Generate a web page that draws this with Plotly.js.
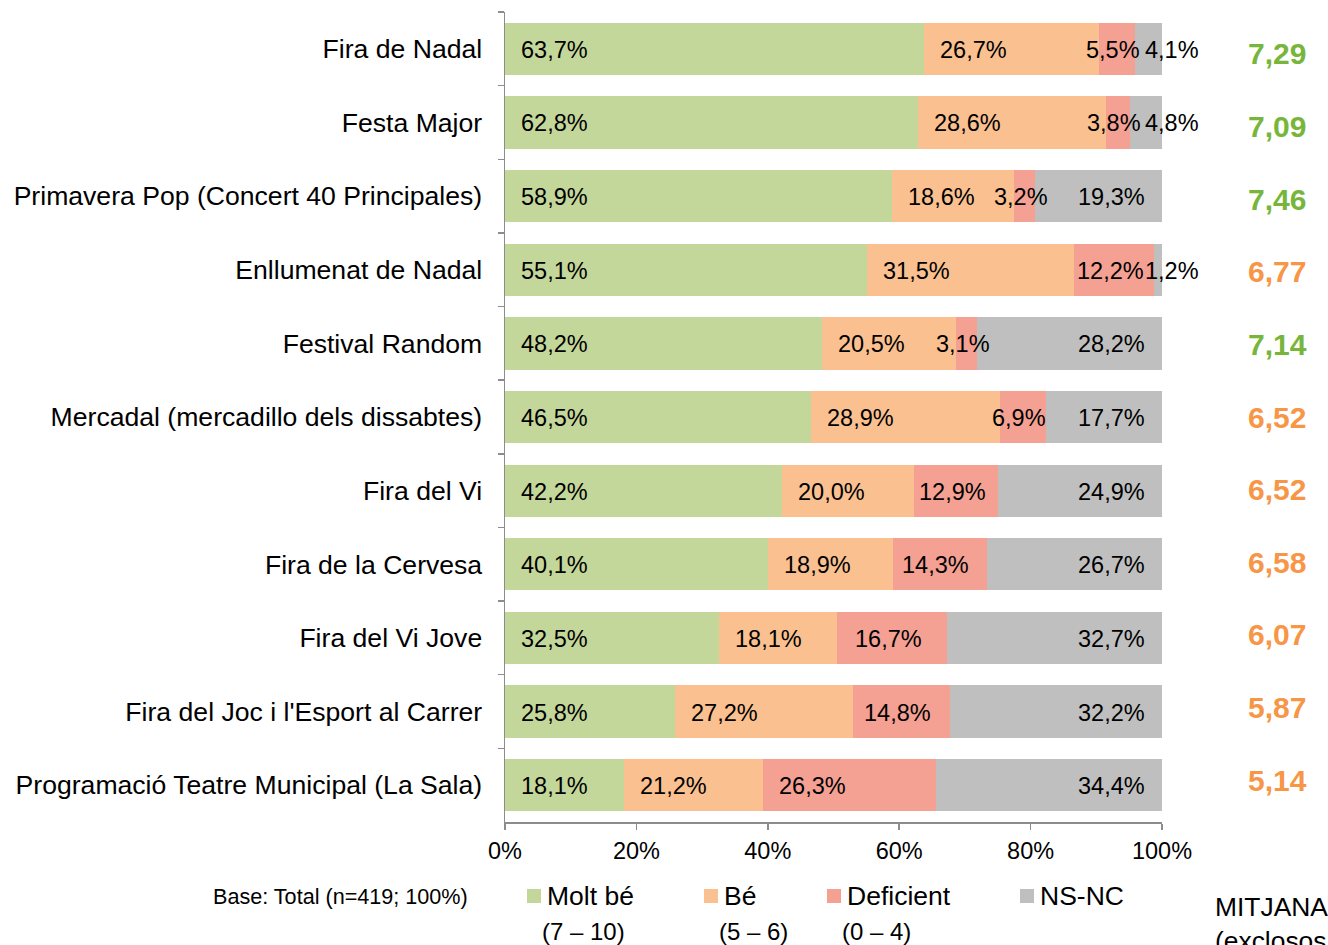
<!DOCTYPE html>
<html>
<head>
<meta charset="utf-8">
<script src="https://cdn.plot.ly/plotly-3.0.1.min.js"></script>
<style>html,body{margin:0;padding:0;background:#fff;}#chart{width:1328px;height:945px;}</style>
</head>
<body>
<div id="chart"></div>
<script>
// ---- data ----
const categories = ['Fira de Nadal','Festa Major','Primavera Pop (Concert 40 Principales)','Enllumenat de Nadal','Festival Random','Mercadal (mercadillo dels dissabtes)','Fira del Vi','Fira de la Cervesa','Fira del Vi Jove',"Fira del Joc i l'Esport al Carrer",'Programació Teatre Municipal (La Sala)'];
const moltBe    = [63.7,62.8,58.9,55.1,48.2,46.5,42.2,40.1,32.5,25.8,18.1];
const be        = [26.7,28.6,18.6,31.5,20.5,28.9,20.0,18.9,18.1,27.2,21.2];
const deficient = [5.5,3.8,3.2,12.2,3.1,6.9,12.9,14.3,16.7,14.8,26.3];
const nsnc      = [4.1,4.8,19.3,1.2,28.2,17.7,24.9,26.7,32.7,32.2,34.4];
const mitjana   = [7.29,7.09,7.46,6.77,7.14,6.52,6.52,6.58,6.07,5.87,5.14];
const seriesNames = ['Molt bé','Bé','Deficient','NS-NC'];
const seriesRanges = ['(7 – 10)','(5 – 6)','(0 – 4)',''];
const xTicks = [0,20,40,60,80,100];

// ---- style ----
const colors = ['#C4D79B','#FAC090','#F4A093','#BFBFBF'];
const meanGreen = '#77B63B', meanOrange = '#F79646';
const FONT = 'Arial, "Liberation Sans", sans-serif';
const fmt = v => v.toFixed(1).replace('.', ',') + '%';

const L = 505, R = 1162, T = 12, B = 822, W = 1328, H = 945;
const px2x = p => (p - L) / (R - L);
const py2y = p => (B - p) / (B - T);

const series = [moltBe, be, deficient, nsnc];
const traces = series.map((vals, i) => ({
  type: 'bar', orientation: 'h', name: seriesNames[i],
  y: categories, x: vals,
  marker: {color: colors[i], line: {width: 0}},
  hoverinfo: 'skip', showlegend: false
}));

const annotations = [];
categories.forEach((c, k) => {
  const a = moltBe[k], b = be[k], d = deficient[k], n = nsnc[k];
  const lab = {font: {family: FONT, size: 23.5, color: '#000'}, showarrow: false, xref: 'x', yref: 'y', y: c, yanchor: 'middle', yshift: -1};
  annotations.push(Object.assign({}, lab, {x: 0, xanchor: 'left', xshift: 14, text: fmt(a)}));
  annotations.push(Object.assign({}, lab, {x: a, xanchor: 'left', xshift: 14, text: fmt(b)}));
  if (d > 20) annotations.push(Object.assign({}, lab, {x: a + b, xanchor: 'left', xshift: 14, text: fmt(d)}));
  else annotations.push(Object.assign({}, lab, {x: a + b + d / 2, xanchor: 'center', xshift: -4, text: fmt(d)}));
  if (n < 6) annotations.push(Object.assign({}, lab, {x: 100, xanchor: 'left', xshift: -19, text: fmt(n)}));
  else annotations.push(Object.assign({}, lab, {x: 100, xanchor: 'right', xshift: -15, text: fmt(n)}));
  annotations.push({xref: 'paper', yref: 'y', x: px2x(1277), y: c, xanchor: 'center', yanchor: 'middle', yshift: k - 5, showarrow: false,
    text: '<b>' + mitjana[k].toFixed(2).replace('.', ',') + '</b>',
    font: {family: FONT, size: 30, color: mitjana[k] >= 7 ? meanGreen : meanOrange}});
});

// legend (manual)
const legX = [527, 704, 827, 1020];
const shapes = [];
seriesNames.forEach((nm, i) => {
  shapes.push({type: 'rect', xref: 'paper', yref: 'paper', x0: px2x(legX[i]), x1: px2x(legX[i] + 14), y0: py2y(903), y1: py2y(889), fillcolor: colors[i], line: {width: 0}});
  annotations.push({xref: 'paper', yref: 'paper', x: px2x(legX[i] + 18), y: py2y(896), xanchor: 'left', yanchor: 'middle', showarrow: false, text: nm, font: {family: FONT, size: 26.5, color: '#000'}});
  if (seriesRanges[i]) annotations.push({xref: 'paper', yref: 'paper', x: px2x(legX[i] + 13), y: py2y(931), xanchor: 'left', yanchor: 'middle', showarrow: false, text: seriesRanges[i], font: {family: FONT, size: 24, color: '#000'}});
});
annotations.push({xref: 'paper', yref: 'paper', x: px2x(470), y: py2y(896), xanchor: 'right', yanchor: 'middle', showarrow: false, text: 'Base: Total (n=419; 100%)', font: {family: FONT, size: 21.6, color: '#000'}});
annotations.push({xref: 'paper', yref: 'paper', x: px2x(1213), y: py2y(890), xanchor: 'left', yanchor: 'top', align: 'left', showarrow: false, text: 'MITJANA<br>(exclosos NS-NC)', font: {family: FONT, size: 26.4, color: '#000'}});

const layout = {
  width: W, height: H,
  margin: {l: L, r: W - R, t: T, b: H - B, pad: 0},
  paper_bgcolor: '#fff', plot_bgcolor: '#fff',
  barmode: 'stack', bargap: 0.29,
  font: {family: FONT, color: '#000'},
  xaxis: {range: [0, 100], tickvals: xTicks, ticktext: xTicks.map(v => v + '%'),
    showgrid: false, zeroline: false, showline: true, linecolor: '#8C8C8C', linewidth: 1.5,
    ticks: 'outside', ticklen: 6, tickcolor: '#8C8C8C', tickwidth: 1.5,
    tickfont: {family: FONT, size: 23.5, color: '#000'}, ticklabelstandoff: 1, fixedrange: true},
  yaxis: {categoryorder: 'array', categoryarray: categories, autorange: 'reversed',
    showgrid: false, zeroline: false, showline: true, linecolor: '#8C8C8C', linewidth: 1.5,
    ticks: 'outside', tickson: 'boundaries', ticklen: 6, tickcolor: '#8C8C8C', tickwidth: 1.5,
    tickfont: {family: FONT, size: 26.6, color: '#000'}, ticklabelstandoff: 16, fixedrange: true},
  shapes: shapes,
  annotations: annotations,
  showlegend: false
};

Plotly.newPlot('chart', traces, layout, {displayModeBar: false, staticPlot: true});
</script>
</body>
</html>
